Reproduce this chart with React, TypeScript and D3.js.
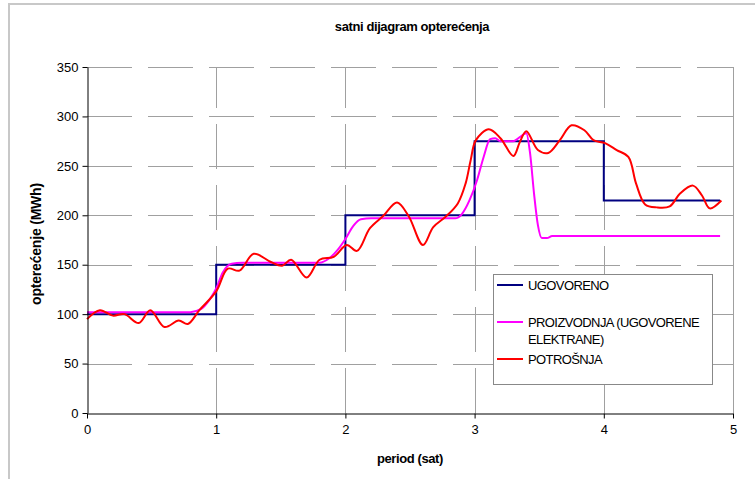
import React, { useEffect, useRef } from 'react';
import * as d3 from 'd3';

// x axis ticks (hours) and y axis ticks (MWh)
const hourTicks = [0, 1, 2, 3, 4, 5];
const loadTicks = [0, 50, 100, 150, 200, 250, 300, 350];

// UGOVORENO - contracted, hourly steps
const contractedTimes = [0, 1, 2, 3, 4, 4.9];
const contractedValues = [100, 150, 200, 275, 215, 215];

// PROIZVODNJA (UGOVORENE ELEKTRANE)
const productionTimes = [0, 0.4, 0.8, 0.88, 0.95, 1.0, 1.05, 1.12, 1.2, 1.5, 1.8, 1.87, 1.94, 2.0, 2.06, 2.12, 2.2, 2.5, 2.85, 2.9, 2.96, 3.02, 3.07, 3.12, 3.16, 3.2, 3.3, 3.35, 3.4, 3.43, 3.46, 3.49, 3.52, 3.56, 3.6, 4.2, 4.9];
const productionValues = [102, 102, 102, 105, 115, 126, 142, 151, 152, 152, 152, 156, 165, 176, 189, 196, 197, 197, 197, 201, 215, 236, 259, 277, 278, 275, 275, 279, 283, 262, 222, 190, 177, 177, 179, 179, 179];

// POTROŠNJA - consumption
const consumptionTimes = [0, 0.1, 0.2, 0.29, 0.4, 0.49, 0.6, 0.71, 0.78, 0.87, 1.0, 1.09, 1.18, 1.29, 1.42, 1.51, 1.58, 1.7, 1.8, 1.91, 2.01, 2.09, 2.19, 2.29, 2.4, 2.49, 2.6, 2.68, 2.78, 2.87, 2.93, 2.97, 3.01, 3.11, 3.2, 3.3, 3.35, 3.4, 3.49, 3.57, 3.66, 3.75, 3.85, 3.92, 4.01, 4.1, 4.19, 4.25, 4.32, 4.41, 4.51, 4.59, 4.69, 4.76, 4.82, 4.91];
const consumptionValues = [95, 104, 98.5, 100, 91, 104, 87, 93.5, 90, 104, 123, 146, 144, 161, 153, 149, 155, 137, 155, 158, 170, 164, 187, 199, 213, 199, 170, 188, 199, 212, 232, 256, 276, 287, 278, 260, 274, 285, 266, 263, 276, 291, 286, 276, 273, 266, 259, 232, 211, 208, 209, 222, 230, 220, 207, 215];

const seriesColors = ['#000080', '#ff00ff', '#ff0000'];
const legendLabels = [['UGOVORENO'], ['PROIZVODNJA (UGOVORENE', 'ELEKTRANE)'], ['POTROŠNJA']];

const W = 755;
const H = 479;
const plot = { left: 87, right: 733, top: 67, bottom: 413 };
const FONT = '"Liberation Sans", Arial, sans-serif';

export default function App() {
  const svgRef = useRef<SVGSVGElement>(null);

  useEffect(() => {
    const svg = d3.select(svgRef.current);
    svg.selectAll('*').remove();

    const x = d3.scaleLinear().domain([0, 5]).range([plot.left, plot.right]);
    const y = d3.scaleLinear().domain([0, 350]).range([plot.bottom, plot.top]);

    svg.append('rect').attr('width', W).attr('height', H).attr('fill', '#fff');

    // outer chart border
    svg
      .append('rect')
      .attr('x', 9)
      .attr('y', 4)
      .attr('width', W + 20)
      .attr('height', H + 20)
      .attr('fill', 'none')
      .attr('stroke', '#c8c8c8')
      .attr('stroke-width', 2);

    // grid
    const grid = svg.append('g');
    grid
      .selectAll('.hgrid')
      .data(loadTicks.filter((d) => d > 0))
      .join('line')
      .attr('x1', plot.left)
      .attr('x2', plot.right)
      .attr('y1', (d) => Math.round(y(d)) + 0.5)
      .attr('y2', (d) => Math.round(y(d)) + 0.5)
      .attr('stroke', '#a0a0a0')
      .attr('stroke-dasharray', '45,16');
    grid
      .selectAll('.vgrid')
      .data(hourTicks.filter((d) => d > 0 && d < 5))
      .join('line')
      .attr('x1', (d) => Math.round(x(d)) + 0.5)
      .attr('x2', (d) => Math.round(x(d)) + 0.5)
      .attr('y1', plot.bottom)
      .attr('y2', plot.top)
      .attr('stroke', '#a0a0a0')
      .attr('stroke-dasharray', '45,16');
    grid
      .append('line')
      .attr('x1', plot.right + 0.5)
      .attr('x2', plot.right + 0.5)
      .attr('y1', plot.bottom)
      .attr('y2', plot.top)
      .attr('stroke', '#a0a0a0');

    // series
    const toPoints = (ts: number[], vs: number[]) => ts.map((t, i) => [t, vs[i]] as [number, number]);
    const lineStep = d3.line().x((d) => x(d[0])).y((d) => y(d[1])).curve(d3.curveStepAfter);
    const lineMono = d3.line().x((d) => x(d[0])).y((d) => y(d[1])).curve(d3.curveMonotoneX);
    const lineSmooth = d3.line().x((d) => x(d[0])).y((d) => y(d[1])).curve(d3.curveCatmullRom.alpha(0.5));

    svg
      .append('path')
      .attr('d', lineStep(toPoints(contractedTimes, contractedValues)))
      .attr('fill', 'none')
      .attr('stroke', seriesColors[0])
      .attr('stroke-width', 2);
    svg
      .append('path')
      .attr('d', lineMono(toPoints(productionTimes, productionValues)))
      .attr('fill', 'none')
      .attr('stroke', seriesColors[1])
      .attr('stroke-width', 2);
    svg
      .append('path')
      .attr('d', lineSmooth(toPoints(consumptionTimes, consumptionValues)))
      .attr('fill', 'none')
      .attr('stroke', seriesColors[2])
      .attr('stroke-width', 2);

    // axes
    const yAxis = d3.axisLeft(y).tickValues(loadTicks).tickSize(5).tickSizeOuter(0).tickPadding(4);
    svg
      .append('g')
      .attr('transform', `translate(${plot.left + 0.5},0)`)
      .call(yAxis)
      .call((g) => g.selectAll('text').attr('font-family', FONT).attr('font-size', 13).attr('fill', '#000'));
    const xAxis = d3
      .axisBottom(x)
      .tickValues(hourTicks)
      .tickFormat(d3.format('d'))
      .tickSize(5)
      .tickSizeOuter(0)
      .tickPadding(6);
    svg
      .append('g')
      .attr('transform', `translate(0,${plot.bottom + 0.5})`)
      .call(xAxis)
      .call((g) => g.selectAll('text').attr('font-family', FONT).attr('font-size', 13).attr('fill', '#000'));

    // titles
    svg
      .append('text')
      .attr('x', 412)
      .attr('y', 31)
      .attr('text-anchor', 'middle')
      .attr('font-family', FONT)
      .attr('font-weight', 'bold')
      .attr('font-size', 13)
      .attr('letter-spacing', -0.4)
      .text('satni dijagram opterećenja');
    svg
      .append('text')
      .attr('x', 410)
      .attr('y', 463)
      .attr('text-anchor', 'middle')
      .attr('font-family', FONT)
      .attr('font-weight', 'bold')
      .attr('font-size', 13)
      .attr('letter-spacing', -0.4)
      .text('period (sat)');
    svg
      .append('text')
      .attr('transform', `translate(41,${(plot.top + plot.bottom) / 2 + 4}) rotate(-90)`)
      .attr('text-anchor', 'middle')
      .attr('font-family', FONT)
      .attr('font-weight', 'bold')
      .attr('font-size', 14)
      .attr('letter-spacing', -0.2)
      .text('opterećenje (MWh)');

    // legend
    const legend = svg.append('g');
    legend
      .append('rect')
      .attr('x', 493.5)
      .attr('y', 274.5)
      .attr('width', 219)
      .attr('height', 110)
      .attr('fill', '#fff')
      .attr('stroke', '#888');
    const legendY = [285, 322, 359];
    legendLabels.forEach((lines, i) => {
      legend
        .append('line')
        .attr('x1', 497)
        .attr('x2', 523)
        .attr('y1', legendY[i])
        .attr('y2', legendY[i])
        .attr('stroke', seriesColors[i])
        .attr('stroke-width', 2);
      lines.forEach((t, j) => {
        legend
          .append('text')
          .attr('x', 528)
          .attr('y', legendY[i] + 5 + j * 17)
          .attr('font-family', FONT)
          .attr('font-size', 13)
          .attr('letter-spacing', -0.6)
          .text(t);
      });
    });
  }, []);

  return (
    <svg
      ref={svgRef}
      width={W}
      height={H}
      style={{ position: 'absolute', left: 0, top: 0 }}
    />
  );
}
